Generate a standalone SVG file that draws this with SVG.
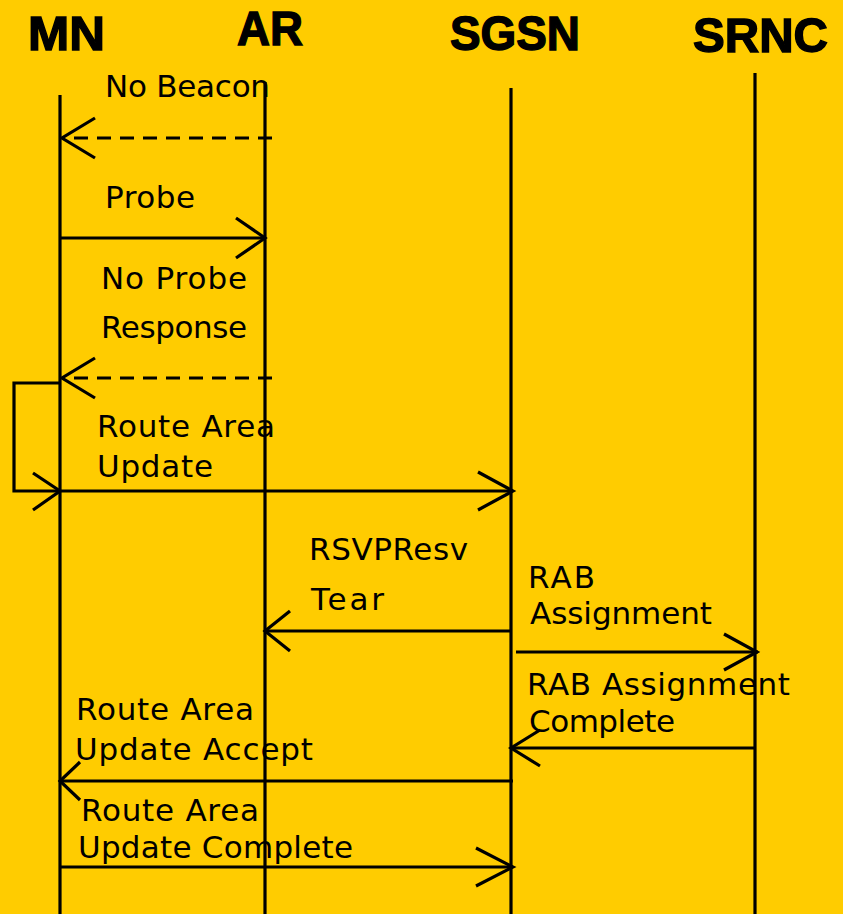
<svg xmlns="http://www.w3.org/2000/svg" width="843" height="914" viewBox="0 0 843 914">
  <style>
    .hdr { font-family: "Liberation Sans", Arial, sans-serif; font-weight: bold; font-size: 49px; fill: #000; stroke: #000; stroke-width: 1.4; }
    .lbl { font-family: "DejaVu Sans", "Comic Sans MS", sans-serif; font-size: 31px; fill: #000; }
    .life { stroke: #000; stroke-width: 3.2; fill: none; }
    .msg { stroke: #000; stroke-width: 3.2; fill: none; }
    .dash { stroke-dasharray: 14 9; }
  </style>
  <rect x="0" y="0" width="843" height="914" fill="#FFCC00"/>

  <!-- participants with lifelines -->
  <g id="mn">
    <text class="hdr" x="28" y="50" textLength="77" lengthAdjust="spacingAndGlyphs">MN</text>
    <line class="life" x1="60" y1="95" x2="60" y2="914"/>
  </g>
  <g id="ar">
    <text class="hdr" x="237" y="45" textLength="66" lengthAdjust="spacingAndGlyphs">AR</text>
    <line class="life" x1="265" y1="82" x2="265" y2="914"/>
  </g>
  <g id="sgsn">
    <text class="hdr" x="450" y="50" textLength="130" lengthAdjust="spacingAndGlyphs">SGSN</text>
    <line class="life" x1="511" y1="88" x2="511" y2="914"/>
  </g>
  <g id="srnc">
    <text class="hdr" x="693" y="52" textLength="135" lengthAdjust="spacingAndGlyphs">SRNC</text>
    <line class="life" x1="755" y1="73" x2="755" y2="914"/>
  </g>

  <!-- messages -->
  <g id="connectors">
    <!-- No Beacon -->
    <line class="msg dash" x1="272" y1="138" x2="62" y2="138"/>
    <polyline class="msg" points="95,118 62,138 95,158"/>
    <!-- Probe -->
    <line class="msg" x1="60" y1="238" x2="265" y2="238"/>
    <polyline class="msg" points="236,218 265,238 236,258"/>
    <!-- No Probe Response -->
    <line class="msg dash" x1="272" y1="378" x2="62" y2="378"/>
    <polyline class="msg" points="95,358 62,378 95,398"/>
    <!-- self loop into Route Area Update -->
    <polyline class="msg" points="60,383 14,383 14,491 60,491"/>
    <polyline class="msg" points="33,473 60,491 33,510"/>
    <!-- Route Area Update -->
    <line class="msg" x1="60" y1="491" x2="513" y2="491"/>
    <polyline class="msg" points="478,472 513,491 478,510"/>
    <!-- RSVPResv Tear -->
    <line class="msg" x1="511" y1="631" x2="265" y2="631"/>
    <polyline class="msg" points="290,611 265,631 290,651"/>
    <!-- RAB Assignment -->
    <line class="msg" x1="516" y1="652" x2="758" y2="652"/>
    <polyline class="msg" points="724,634 757,652 724,670"/>
    <!-- RAB Assignment Complete -->
    <line class="msg" x1="755" y1="748" x2="511" y2="748"/>
    <polyline class="msg" points="540,730 511,748 540,766"/>
    <!-- Route Area Update Accept -->
    <line class="msg" x1="513" y1="781" x2="60" y2="781"/>
    <polyline class="msg" points="80,762 60,781 80,800"/>
    <!-- Route Area Update Complete -->
    <line class="msg" x1="60" y1="867" x2="513" y2="867"/>
    <polyline class="msg" points="476,848 513,867 476,886"/>
  </g>

  <!-- message labels -->
  <g id="labels">
    <text class="lbl" x="105" y="97" textLength="165">No Beacon</text>
    <text class="lbl" x="105" y="208" textLength="90">Probe</text>
    <text class="lbl" x="101" y="289" textLength="146">No Probe</text>
    <text class="lbl" x="101" y="338" textLength="146">Response</text>
    <text class="lbl" x="97" y="437" textLength="178">Route Area</text>
    <text class="lbl" x="97" y="477" textLength="116">Update</text>
    <text class="lbl" x="309" y="560" textLength="159">RSVPResv</text>
    <text class="lbl" x="311" y="610" textLength="73">Tear</text>
    <text class="lbl" x="528" y="588" textLength="67">RAB</text>
    <text class="lbl" x="530" y="624" textLength="182">Assignment</text>
    <text class="lbl" x="527" y="695" textLength="263">RAB Assignment</text>
    <text class="lbl" x="529" y="732" textLength="146">Complete</text>
    <text class="lbl" x="76" y="720" textLength="178">Route Area</text>
    <text class="lbl" x="75" y="760" textLength="238">Update Accept</text>
    <text class="lbl" x="81" y="821" textLength="178">Route Area</text>
    <text class="lbl" x="78" y="858" textLength="275">Update Complete</text>
  </g>
</svg>
